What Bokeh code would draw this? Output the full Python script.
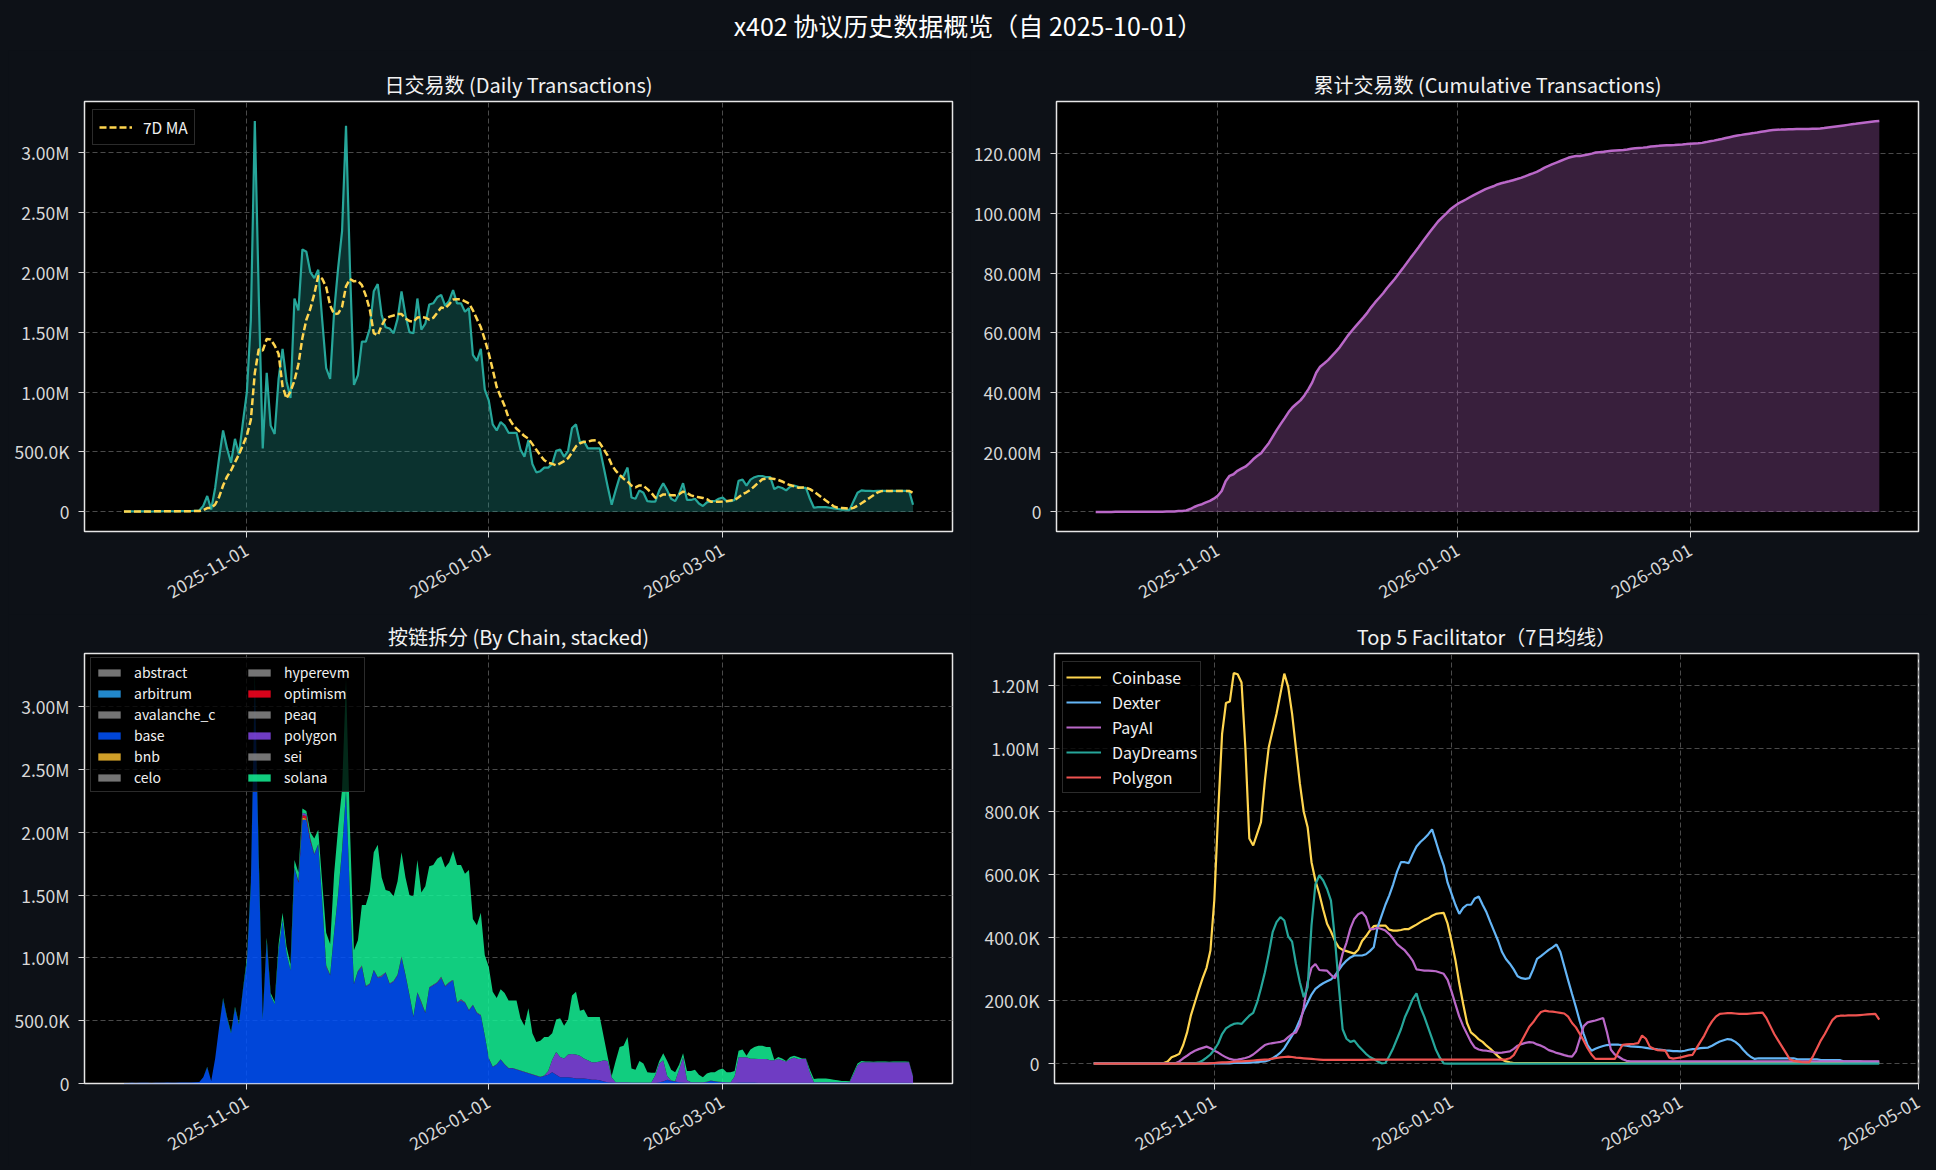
import numpy as np
import pandas as pd
from bokeh.plotting import figure
from bokeh.models import (ColumnDataSource, Range1d, FixedTicker, CustomJSTickFormatter, Div,
                          Legend, LegendItem)
from bokeh.layouts import column, row
from bokeh.embed import file_html
from bokeh.resources import INLINE

# ---------------- data ----------------
START = "2025-10-01"

# daily transactions, millions (2025-10-01 .. 2026-04-18)
daily_m = [
    0.003, 0.004, 0.005, 0.004, 0.005, 0.006, 0.005, 0.004, 0.006, 0.005,
    0.006, 0.007, 0.006, 0.005, 0.007, 0.008, 0.007, 0.008, 0.010, 0.012,
    0.05, 0.133, 0.02, 0.2, 0.45, 0.68, 0.53, 0.41, 0.61, 0.48,
    0.75, 1.0, 1.6, 3.26, 1.8, 0.53, 1.16, 0.72, 0.65, 1.11,
    1.36, 1.09, 0.95, 1.78, 1.68, 2.19, 2.17, 2.0, 1.95, 2.02,
    1.6, 1.2, 1.11, 1.67, 2.03, 2.34, 3.22, 2.03, 1.06, 1.14,
    1.42, 1.42, 1.53, 1.84, 1.9, 1.64, 1.54, 1.53, 1.49, 1.61,
    1.84, 1.64, 1.5, 1.49, 1.78, 1.52, 1.57, 1.73, 1.74, 1.79,
    1.81, 1.72, 1.76, 1.85, 1.74, 1.74, 1.67, 1.7, 1.31, 1.26,
    1.36, 1.02, 0.93, 0.73, 0.68, 0.75, 0.72, 0.66, 0.66, 0.66,
    0.52, 0.46, 0.6, 0.4, 0.33, 0.34, 0.37, 0.37, 0.4, 0.51,
    0.52, 0.46, 0.51, 0.7, 0.73, 0.58, 0.59, 0.53, 0.53, 0.53,
    0.53, 0.37, 0.21, 0.06, 0.18, 0.29, 0.3, 0.37, 0.12, 0.11,
    0.18, 0.16, 0.09, 0.086, 0.086, 0.18, 0.24, 0.18, 0.11, 0.09,
    0.15, 0.24, 0.1, 0.1, 0.11, 0.07, 0.05, 0.08, 0.09, 0.09,
    0.11, 0.12, 0.09, 0.09, 0.1, 0.26, 0.27, 0.22, 0.27, 0.29,
    0.3, 0.3, 0.29, 0.29, 0.19, 0.21, 0.2, 0.18, 0.21, 0.22,
    0.21, 0.2, 0.2, 0.11, 0.035, 0.04, 0.04, 0.04, 0.035, 0.03,
    0.025, 0.02, 0.02, 0.017, 0.09, 0.16, 0.18, 0.176, 0.175, 0.174,
    0.175, 0.176, 0.175, 0.174, 0.175, 0.176, 0.175, 0.175, 0.174, 0.06,
]

# per-chain daily transactions, millions (same dates)
base_m = [
    0.003, 0.004, 0.005, 0.004, 0.005, 0.006, 0.005, 0.004, 0.006, 0.005,
    0.006, 0.007, 0.006, 0.005, 0.007, 0.008, 0.007, 0.008, 0.010, 0.012,
    0.05, 0.13, 0.02, 0.2, 0.45, 0.67, 0.52, 0.4, 0.6, 0.47,
    0.74, 0.97, 1.57, 3.2, 1.74, 0.51, 1.13, 0.7, 0.63, 1.06,
    1.3, 1.04, 0.9, 1.72, 1.6, 2.1, 2.1, 1.93, 1.82, 1.9,
    1.45, 0.93, 0.86, 1.2, 1.5, 1.85, 2.32, 1.5, 0.79, 0.89,
    0.93, 0.77, 0.79, 0.9, 0.84, 0.85, 0.88, 0.79, 0.81, 0.86,
    1.0, 0.86, 0.7, 0.53, 0.72, 0.64, 0.56, 0.76, 0.78, 0.8,
    0.84, 0.77, 0.8, 0.82, 0.64, 0.66, 0.64, 0.58, 0.62, 0.56,
    0.54, 0.38, 0.2, 0.13, 0.15, 0.19, 0.15, 0.12, 0.12, 0.11,
    0.1, 0.09, 0.08, 0.07, 0.06, 0.05, 0.06, 0.07, 0.09, 0.07,
    0.05, 0.05, 0.05, 0.045, 0.04, 0.04, 0.04, 0.035, 0.03, 0.03,
    0.025, 0.015, 0.01, 0.008, 0.006, 0.006, 0.006, 0.006, 0.005, 0.005,
    0.005, 0.005, 0.005, 0.005, 0.005, 0.01, 0.015, 0.03, 0.02, 0.015,
    0.01, 0.008, 0.006, 0.006, 0.006, 0.006, 0.006, 0.01, 0.02, 0.015,
    0.01, 0.008, 0.006, 0.006, 0.006, 0.008, 0.008, 0.008, 0.008, 0.008,
    0.006, 0.006, 0.006, 0.006, 0.006, 0.006, 0.006, 0.006, 0.006, 0.006,
    0.006, 0.006, 0.006, 0.005, 0.005, 0.005, 0.005, 0.005, 0.005, 0.005,
    0.005, 0.005, 0.005, 0.005, 0.005, 0.005, 0.005, 0.005, 0.005, 0.005,
    0.005, 0.005, 0.005, 0.005, 0.005, 0.005, 0.005, 0.005, 0.005, 0.004,
]

polygon_m = [
    0, 0, 0, 0, 0, 0, 0, 0, 0, 0,
    0, 0, 0, 0, 0, 0, 0, 0, 0, 0,
    0, 0, 0, 0, 0, 0, 0, 0, 0, 0,
    0, 0, 0, 0, 0, 0, 0, 0, 0, 0,
    0, 0, 0, 0, 0, 0.02, 0.015, 0.01, 0.008, 0.006,
    0.006, 0.006, 0.006, 0.006, 0.006, 0.006, 0.006, 0.006, 0.006, 0.006,
    0.006, 0.006, 0.006, 0.006, 0.006, 0.006, 0.006, 0.006, 0.006, 0.006,
    0.006, 0.006, 0.006, 0.006, 0.006, 0.006, 0.006, 0.006, 0.006, 0.006,
    0.006, 0.006, 0.006, 0.006, 0.006, 0.006, 0.006, 0.006, 0.006, 0.006,
    0.006, 0.003, 0.003, 0.003, 0.003, 0.003, 0.003, 0.003, 0.003, 0.003,
    0.003, 0.003, 0.003, 0.003, 0.003, 0.003, 0.003, 0.03, 0.1, 0.18,
    0.16, 0.15, 0.18, 0.19, 0.19, 0.18, 0.16, 0.15, 0.14, 0.14,
    0.15, 0.17, 0.17, 0.04, 0.003, 0.003, 0.003, 0.003, 0.003, 0.003,
    0.003, 0.003, 0.003, 0.003, 0.06, 0.15, 0.17, 0.03, 0.003, 0.003,
    0.1, 0.2, 0.02, 0.003, 0.003, 0.003, 0.003, 0.003, 0.003, 0.003,
    0.003, 0.003, 0.003, 0.003, 0.05, 0.2, 0.2, 0.2, 0.19, 0.19,
    0.19, 0.19, 0.19, 0.18, 0.18, 0.19, 0.18, 0.17, 0.19, 0.2,
    0.19, 0.19, 0.19, 0.08, 0.005, 0.005, 0.005, 0.005, 0.005, 0.005,
    0.005, 0.005, 0.005, 0.005, 0.07, 0.14, 0.165, 0.165, 0.165, 0.165,
    0.165, 0.165, 0.165, 0.165, 0.165, 0.165, 0.165, 0.165, 0.165, 0.05,
]

# small chains: {day index from START: value in millions}
optimism_pts = {44: 0.01, 45: 0.02, 46: 0.02, 47: 0.01}
bnb_pts = {45: 0.015, 46: 0.01, 51: 0.004, 55: 0.004, 60: 0.004, 65: 0.004,
           70: 0.004, 75: 0.004, 80: 0.004, 85: 0.004}

chains = ["abstract", "arbitrum", "avalanche_c", "base", "bnb", "celo",
          "hyperevm", "optimism", "peaq", "polygon", "sei", "solana"]
chain_colors = ["#888888", "#28A0F0", "#888888", "#0052FF", "#F3BA2F", "#888888",
                "#888888", "#FF0420", "#888888", "#8247E5", "#888888", "#14F195"]

# Top 5 facilitators, 7-day moving average, thousands (2025-10-01 .. 2026-04-21)
coinbase_k = [
    2, 2, 2, 2, 2, 2, 2, 2, 2, 2,
    2, 2, 2, 2, 2, 2, 2, 2, 3, 8,
    21, 26, 32, 60, 100, 155, 195, 235, 272, 305,
    360, 520, 800, 1047, 1145, 1150, 1240, 1236, 1210, 1000,
    715, 693, 730, 767, 899, 1005, 1058, 1111, 1174, 1238,
    1196, 1111, 1000, 890, 800, 751, 640, 582, 540, 490,
    445, 420, 391, 370, 362, 358, 354, 350, 362, 390,
    405, 423, 437, 439, 439, 439, 426, 423, 423, 425,
    428, 428, 435, 442, 450, 457, 462, 470, 476, 478,
    479, 445, 390, 330, 255, 190, 130, 100, 90, 78,
    70, 58, 48, 36, 24, 14, 8, 5, 3, 3,
    3, 3, 3, 3, 3, 3, 3, 3, 3, 3,
    3, 3, 3, 3, 3, 3, 3, 3, 3, 3,
    3, 3, 3, 3, 3, 3, 3, 3, 3, 3,
    3, 3, 3, 3, 3, 3, 3, 3, 3, 3,
    3, 3, 3, 3, 3, 3, 3, 3, 3, 3,
    3, 3, 3, 3, 3, 3, 3, 3, 3, 3,
    3, 3, 3, 3, 3, 3, 3, 3, 3, 3,
    3, 3, 3, 3, 3, 3, 3, 3, 3, 3,
    3, 3, 3, 3, 3, 3, 3, 3, 3, 3,
    3, 3, 3,
]
dexter_k = [
    2, 2, 2, 2, 2, 2, 2, 2, 2, 2,
    2, 2, 2, 2, 2, 2, 2, 2, 2, 2,
    2, 2, 2, 2, 2, 2, 2, 2, 2, 2,
    2, 2, 2, 2, 2, 2, 3, 3, 3, 3,
    4, 5, 6, 7, 8, 12, 18, 26, 36, 50,
    70, 90, 111, 140, 170, 195, 220, 238, 248, 256,
    262, 268, 280, 298, 315, 328, 338, 344, 344, 344,
    348, 358, 370, 434, 470, 505, 535, 570, 610, 640,
    640, 637, 665, 690, 704, 715, 728, 744, 705, 665,
    630, 575, 540, 505, 476, 495, 505, 505, 525, 531,
    505, 481, 450, 420, 390, 355, 333, 318, 300, 278,
    272, 270, 272, 300, 333, 342, 352, 362, 370, 379,
    355, 310, 265, 222, 180, 135, 95, 60, 42, 48,
    53, 57, 60, 61, 61, 61, 60, 58, 56, 55,
    54, 53, 51, 49, 48, 46, 45, 43, 42, 41,
    41, 40, 42, 45, 47, 48, 50, 51, 52, 58,
    65, 71, 75, 79, 77, 70, 60, 45, 32, 22,
    16, 18, 18, 18, 18, 18, 18, 18, 18, 18,
    18, 15, 15, 15, 15, 15, 15, 12, 12, 12,
    12, 12, 12, 8, 8, 8, 8, 8, 7, 7,
    7, 7, 7,
]
payai_k = [
    2, 2, 2, 2, 2, 2, 2, 2, 2, 2,
    2, 2, 2, 2, 2, 2, 2, 2, 2, 2,
    2, 2, 8, 18, 26, 35, 42, 47, 51, 55,
    50, 42, 36, 28, 21, 16, 13, 14, 16, 19,
    23, 30, 40, 50, 60, 64, 66, 68, 70, 74,
    85, 95, 100, 125, 180, 260, 305, 317, 298, 297,
    296, 283, 272, 300, 350, 385, 430, 460, 475, 481,
    466, 428, 428, 432, 428, 423, 412, 397, 380, 370,
    360, 345, 328, 300, 298, 296, 296, 295, 294, 290,
    286, 267, 230, 190, 150, 120, 95, 70, 52, 46,
    43, 42, 40, 37, 35, 36, 38, 40, 48, 58,
    63, 67, 69, 68, 62, 58, 52, 44, 40, 35,
    32, 28, 25, 23, 40, 80, 120, 132, 135, 138,
    142, 146, 100, 45, 30, 23, 15, 10, 8, 8,
    8, 8, 8, 8, 8, 8, 8, 8, 8, 8,
    8, 8, 8, 8, 8, 8, 8, 8, 8, 8,
    8, 8, 8, 8, 8, 8, 8, 8, 8, 8,
    8, 8, 8, 8, 8, 8, 8, 8, 8, 8,
    8, 8, 8, 8, 8, 8, 8, 8, 8, 8,
    8, 8, 8, 8, 8, 8, 8, 8, 8, 8,
    8, 8, 8,
]
daydreams_k = [
    1, 1, 1, 1, 1, 1, 1, 1, 1, 1,
    1, 1, 1, 1, 1, 1, 1, 1, 1, 1,
    1, 1, 1, 1, 1, 1, 1, 5, 11, 20,
    30, 45, 65, 95, 113, 121, 127, 129, 127, 140,
    153, 162, 195, 240, 290, 350, 418, 450, 466, 455,
    405, 388, 317, 259, 212, 243, 440, 570, 598, 582,
    555, 518, 400, 250, 110, 80, 70, 74, 58, 45,
    32, 22, 16, 8, 2, 3, 25, 50, 80, 110,
    148, 175, 205, 224, 180, 150, 115, 80, 45, 20,
    2, 1, 1, 1, 1, 1, 1, 1, 1, 1,
    1, 1, 1, 1, 1, 1, 1, 1, 1, 1,
    1, 1, 1, 1, 1, 1, 1, 1, 1, 1,
    1, 1, 1, 1, 1, 1, 1, 1, 1, 1,
    1, 1, 1, 1, 1, 1, 1, 1, 1, 1,
    1, 1, 1, 1, 1, 1, 1, 1, 1, 1,
    1, 1, 1, 1, 1, 1, 1, 1, 1, 1,
    1, 1, 1, 1, 1, 1, 1, 1, 1, 1,
    1, 1, 1, 1, 1, 1, 1, 1, 1, 1,
    1, 1, 1, 1, 1, 1, 1, 1, 1, 1,
    1, 1, 1, 1, 1, 1, 1, 1, 1, 1,
    1, 1, 1,
]
polygonf_k = [
    1, 1, 1, 1, 1, 1, 1, 1, 1, 1,
    1, 1, 1, 1, 1, 1, 1, 1, 1, 1,
    1, 1, 1, 1, 1, 1, 1, 1, 1, 1,
    2, 3, 4, 5, 5, 6, 7, 8, 8, 9,
    10, 11, 12, 13, 14, 15, 17, 19, 21, 22,
    23, 22, 20, 19, 18, 17, 16, 15, 14, 13,
    13, 13, 13, 13, 13, 13, 13, 13, 13, 13,
    13, 14, 14, 14, 14, 14, 14, 14, 14, 14,
    14, 14, 14, 14, 14, 14, 14, 14, 14, 14,
    14, 14, 14, 14, 14, 14, 14, 14, 14, 14,
    14, 14, 14, 14, 14, 14, 15, 18, 28, 50,
    72, 95, 118, 132, 150, 165, 169, 167, 166, 164,
    162, 160, 150, 130, 116, 95, 74, 50, 30, 16,
    16, 16, 16, 16, 16, 40, 61, 62, 63, 64,
    66, 90, 80, 55, 48, 44, 43, 42, 20, 17,
    19, 21, 24, 27, 29, 50, 70, 90, 115, 135,
    150, 159, 160, 161, 161, 160, 159, 159, 159, 160,
    161, 162, 163, 145, 120, 95, 75, 55, 35, 15,
    10, 8, 6, 5, 5, 25, 50, 75, 95, 118,
    140, 151, 153, 153, 154, 154, 154, 155, 156, 157,
    158, 159, 141,
]
facilitators = ["Coinbase", "Dexter", "PayAI", "DayDreams", "Polygon"]
fac_colors = ["#ffd54f", "#64b5f6", "#ba68c8", "#26a69a", "#ef5350"]

x_tick_dates = ["2025-11-01", "2026-01-01", "2026-03-01", "2026-05-01"]

# ---------------- styling ----------------
FONT = "Noto Sans CJK SC"
BG = "#0d1117"
TXT = "#d8d8d8"
TEAL = "#26a69a"
GOLD = "#ffd54f"
PURPLE = "#ba68c8"

Y_FMT = CustomJSTickFormatter(code="""
const v = tick;
if (Math.abs(v) >= 1e6) return (v/1e6).toFixed(2) + 'M';
if (Math.abs(v) >= 1e3) return (v/1e3).toFixed(1) + 'K';
return v.toFixed(0);
""")
X_FMT = CustomJSTickFormatter(code="""
const d = new Date(tick);
const m = String(d.getUTCMonth() + 1).padStart(2, '0');
const dd = String(d.getUTCDate()).padStart(2, '0');
return d.getUTCFullYear() + '-' + m + '-' + dd;
""")


def ms(t):
    return pd.Timestamp(t).value / 1e6


def xr(dts):
    a, b = ms(dts[0]), ms(dts[-1])
    s = b - a
    return Range1d(a - 0.05 * s, b + 0.05 * s)


def make(title, w, h, bl, br, bt, bb, x_range, y_range, yticks):
    p = figure(width=w, height=h, x_axis_type="datetime", x_range=x_range,
               y_range=y_range, output_backend="svg", toolbar_location=None,
               title=title)
    p.min_border_left, p.min_border_right = bl, br
    p.min_border_top, p.min_border_bottom = bt, bb
    p.background_fill_color = "#000000"
    p.border_fill_color = BG
    p.outline_line_color = "#e6e6e6"
    p.outline_line_width = 1.5
    p.title.text_font = FONT
    p.title.text_font_size = "20px"
    p.title.text_font_style = "normal"
    p.title.text_color = "#f2f2f2"
    p.title.align = "center"
    p.title.standoff = 6
    for ax in p.axis:
        ax.axis_line_color = None
        ax.major_tick_line_color = TXT
        ax.major_tick_out = 6
        ax.major_tick_in = 0
        ax.minor_tick_line_color = None
        ax.major_label_text_color = TXT
        ax.major_label_text_font = FONT
        ax.major_label_text_font_size = "17.5px"
    lo, hi = x_range.start, x_range.end
    p.xaxis.ticker = FixedTicker(ticks=[ms(t) for t in x_tick_dates if lo <= ms(t) <= hi])
    p.xaxis.formatter = X_FMT
    p.xaxis.major_label_orientation = np.pi / 6
    p.xaxis.major_label_standoff = 11
    p.yaxis.ticker = FixedTicker(ticks=yticks)
    p.yaxis.formatter = Y_FMT
    p.yaxis.major_label_standoff = 9
    for g in (p.xgrid, p.ygrid):
        g.grid_line_color = "#4a4a4a"
        g.grid_line_dash = "5 3"
        g.grid_line_width = 1
    return p


def style_legend(lg, size, padding):
    lg.label_text_font = FONT
    lg.label_text_font_size = size
    lg.label_text_color = "#f0f0f0"
    lg.background_fill_color = "#000000"
    lg.background_fill_alpha = 0.8
    lg.border_line_color = "#555555"
    lg.border_line_width = 1.2
    lg.padding = padding
    lg.label_standoff = 11
    lg.spacing = 1


# ---------------- derived ----------------
N = len(daily_m)
dates = pd.date_range(START, periods=N, freq="D")
daily = np.array(daily_m) * 1e6
ma7 = pd.Series(daily).rolling(7, min_periods=1).mean().to_numpy()
cum = np.cumsum(daily)

chain_vals = {c: np.zeros(N) for c in chains}
chain_vals["base"] = np.array(base_m[:N]) * 1e6
chain_vals["polygon"] = np.array(polygon_m[:N]) * 1e6
for k, v in optimism_pts.items():
    chain_vals["optimism"][k] = v * 1e6
for k, v in bnb_pts.items():
    chain_vals["bnb"][k] = v * 1e6
others = sum(chain_vals[c] for c in chains if c != "solana")
chain_vals["solana"] = np.clip(daily - others, 0, None)

# ---------------- layout geometry ----------------
LW, RW = 962, 958
LB_L, LB_R = 76, 18
RB_L, RB_R = 84, 10
T_TOP, T_BOT = 51, 83
B_TOP, B_BOT = 39, 83
FRAME_H = 430
TH = T_TOP + FRAME_H + T_BOT
BH = B_TOP + FRAME_H + B_BOT

# ---------- panel 1: daily ----------
src1 = ColumnDataSource(dict(date=dates, v=daily, ma=ma7))
ymax = daily.max()
p1 = make("日交易数 (Daily Transactions)", LW, TH, LB_L, LB_R, T_TOP, T_BOT, xr(dates),
          Range1d(-0.05 * ymax, 1.05 * ymax), [0, 5e5, 1e6, 1.5e6, 2e6, 2.5e6, 3e6])
p1.varea(x="date", y1=0, y2="v", source=src1, fill_color=TEAL, fill_alpha=0.3)
p1.line(x="date", y="v", source=src1, line_color=TEAL, line_width=2.2)
p1.line(x="date", y="ma", source=src1, line_color=GOLD, line_width=2.5,
        line_dash="7 3", legend_label="7D MA")
lg1 = p1.legend[0]
style_legend(lg1, "15.5px", 6)
lg1.location = "top_left"
lg1.margin = 8
lg1.glyph_width = 33

# ---------- panel 2: cumulative ----------
src2 = ColumnDataSource(dict(date=dates, c=cum))
cmax = cum.max()
p2 = make("累计交易数 (Cumulative Transactions)", RW, TH, RB_L, RB_R, T_TOP, T_BOT, xr(dates),
          Range1d(-0.05 * cmax, 1.05 * cmax), [0, 2e7, 4e7, 6e7, 8e7, 1e8, 1.2e8])
p2.varea(x="date", y1=0, y2="c", source=src2, fill_color=PURPLE, fill_alpha=0.3)
p2.line(x="date", y="c", source=src2, line_color=PURPLE, line_width=2.5)

# ---------- panel 3: by chain stacked ----------
src3 = ColumnDataSource(dict(date=dates, **chain_vals))
tmax = sum(chain_vals[c] for c in chains).max()
p3 = make("按链拆分 (By Chain, stacked)", LW, BH, LB_L, LB_R, B_TOP, B_BOT, xr(dates),
          Range1d(0, 1.05 * tmax), [0, 5e5, 1e6, 1.5e6, 2e6, 2.5e6, 3e6])
rends = p3.varea_stack(stackers=chains, x="date", source=src3, color=chain_colors,
                       fill_alpha=0.85)
half = len(chains) // 2
legA = Legend(items=[LegendItem(label=c, renderers=[r])
                     for c, r in zip(chains[:half], rends[:half])], location=(6, 291))
legB = Legend(items=[LegendItem(label=c, renderers=[r])
                     for c, r in zip(chains[half:], rends[half:])], location=(161, 296))
for lg in (legA, legB):
    style_legend(lg, "14px", 4)
    lg.glyph_width = 28
    lg.glyph_height = 9
    lg.label_height = 12
legA.label_width = 226
legB.background_fill_alpha = 0
legB.border_line_color = None
p3.add_layout(legA)
p3.add_layout(legB)

# ---------- panel 4: top 5 facilitators ----------
series_k = [coinbase_k, dexter_k, payai_k, daydreams_k, polygonf_k]
all_dates4 = pd.date_range(START, periods=max(len(s) for s in series_k), freq="D")
fmax = max(max(s) for s in series_k) * 1e3
p4 = make("Top 5 Facilitator（7日均线）", RW, BH, RB_L, RB_R, B_TOP, B_BOT, xr(all_dates4),
          Range1d(-0.05 * fmax, 1.05 * fmax), [0, 2e5, 4e5, 6e5, 8e5, 1e6, 1.2e6])
for name, col, s in zip(facilitators, fac_colors, series_k):
    d4 = pd.date_range(START, periods=len(s), freq="D")
    p4.line(x=d4, y=np.array(s) * 1e3, line_color=col, line_width=2.2, legend_label=name)
lg4 = p4.legend[0]
style_legend(lg4, "16px", 3)
lg4.location = "top_left"
lg4.margin = 8
lg4.glyph_width = 35
lg4.label_height = 18

title = Div(text="x402 协议历史数据概览（自 2025-10-01）", width=LW + RW, height=42,
            margin=(0, 0, 0, 0),
            styles={"font-size": "25px", "color": "#ffffff", "text-align": "center",
                    "font-family": FONT, "line-height": "34px", "width": f"{LW + RW}px"})

layout = column(title, row(p1, p2), row(p3, p4))
layout.margin = (8, 0, 0, 8)
layout.styles = {"background-color": BG}

html = file_html(layout, INLINE, title="x402")
head, sep, rest = html.rpartition("</head>")
extra = "<style>html, body { background-color: #0d1117 !important; }</style>\n"
html = head + extra + sep + rest
open("out.html", "w").write(html)
